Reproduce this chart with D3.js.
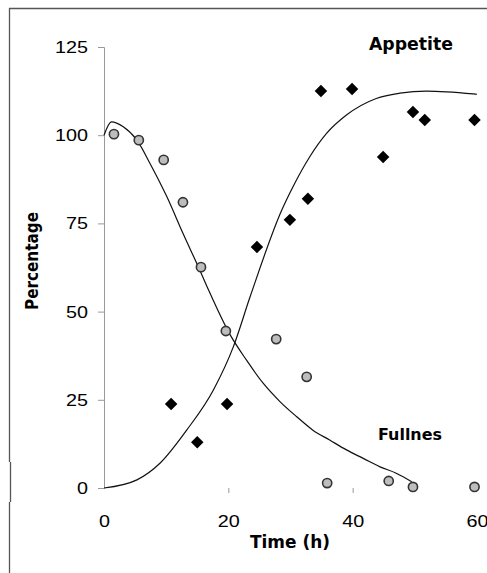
<!DOCTYPE html>
<html>
<head>
<meta charset="utf-8">
<script src="https://cdn.jsdelivr.net/npm/d3@7"></script>
<style>
  html, body { margin: 0; padding: 0; background: #fff; }
  svg { display: block; }
</style>
</head>
<body>
<div id="chart"></div>
<script>
// ---- Data ----
const xTicks = [0, 20, 40, 60];
const yTicks = [0, 25, 50, 75, 100, 125];

// Fullness observations (time h, percentage)
const fullTime  = [1.6, 5.6, 9.6, 12.7, 15.6, 19.6, 27.7, 32.6, 35.9, 45.8, 49.7, 59.6];
const fullValue = [100.3, 98.6, 93, 81, 62.6, 44.5, 42.2, 31.5, 1.4, 2, 0.3, 0.3];

// Appetite observations (time h, percentage)
const appTime  = [10.8, 15, 19.8, 24.6, 29.9, 32.8, 34.9, 39.9, 44.9, 49.7, 51.6, 59.6];
const appValue = [23.8, 13, 23.8, 68.3, 76, 82, 112.5, 113.1, 93.8, 106.6, 104.3, 104.3];

// Fitted curves
const fullCurveT = [0, 1.2, 3.1, 5.3, 7.4, 10.1, 12.7, 15.4, 16.6, 20.3, 22.9, 25.6, 28.3, 31, 33.6, 36.3, 39, 41.7, 44.4, 47, 49.5];
const fullCurveV = [100, 103.8, 102.4, 98.6, 92, 82.6, 72.2, 61.8, 57, 43.4, 36.3, 29.7, 24.5, 20.2, 16.4, 13.6, 10.8, 8.4, 6, 4.2, 1.8];
const appCurveT  = [0, 5.3, 9, 13.3, 17.6, 20.8, 23.5, 28.6, 30.4, 33.1, 35.8, 39, 43.8, 47.6, 51.9, 59.4, 60];
const appCurveV  = [0, 2.3, 7, 16.4, 27.8, 40, 54.2, 78.8, 85.4, 93.9, 100.5, 105.7, 110.4, 111.9, 112.5, 111.7, 111.6];

// ---- Layout ----
const W = 487, H = 573;
const svg = d3.select("#chart").append("svg").attr("width", W).attr("height", H);

const x = d3.scaleLinear().domain([0, 60]).range([104, 477]);
const y = d3.scaleLinear().domain([0, 125]).range([488, 47]);

const handFont = "'Comic Sans MS', 'DejaVu Sans', sans-serif";
const tickFont = "'Liberation Sans', Arial, sans-serif";

// frame
const frame = [[9, 8.5, W, 8.5], [9.5, 8, 9.5, 462], [10.5, 462, 10.5, 502], [9.5, 502, 9.5, H]];
svg.append("g").selectAll("line").data(frame).join("line")
  .attr("x1", d => d[0]).attr("y1", d => d[1]).attr("x2", d => d[2]).attr("y2", d => d[3])
  .attr("stroke", "#555").attr("stroke-width", 1.3);

// Y axis
const yAxis = d3.axisLeft(y).tickValues(yTicks).tickSize(6).tickPadding(10);
const gy = svg.append("g").attr("transform", `translate(${x(0)},0)`).call(yAxis);
gy.select(".domain").attr("stroke", "#999");
gy.selectAll(".tick line").attr("stroke", "#999");
gy.selectAll(".tick text").attr("font-family", tickFont)
  .attr("font-size", 17).attr("fill", "#000")
  .attr("textLength", d => String(d).length * 11).attr("lengthAdjust", "spacingAndGlyphs");

// X axis (ticks only, no baseline)
const xAxis = d3.axisBottom(x).tickValues(xTicks).tickSize(5).tickPadding(22);
const gx = svg.append("g").attr("transform", `translate(0,${y(0)})`).call(xAxis);
gx.select(".domain").remove();
gx.selectAll(".tick line").attr("stroke", "#999")
  .attr("display", d => (d === 20 || d === 40) ? null : "none");
gx.selectAll(".tick text").attr("font-family", tickFont)
  .attr("font-size", 17).attr("fill", "#000")
  .attr("textLength", d => String(d).length * 11).attr("lengthAdjust", "spacingAndGlyphs");

// curves
const line = d3.line().x(d => x(d[0])).y(d => y(d[1])).curve(d3.curveMonotoneX);
svg.append("path").datum(d3.zip(fullCurveT, fullCurveV)).attr("d", line)
  .attr("fill", "none").attr("stroke", "#111").attr("stroke-width", 1.2);
svg.append("path").datum(d3.zip(appCurveT, appCurveV)).attr("d", line)
  .attr("fill", "none").attr("stroke", "#111").attr("stroke-width", 1.2);

// Fullness circles
svg.append("g").selectAll("circle").data(d3.zip(fullTime, fullValue)).join("circle")
  .attr("cx", d => x(d[0])).attr("cy", d => y(d[1])).attr("r", 4.6)
  .attr("fill", "#bdbdbd").attr("stroke", "#333").attr("stroke-width", 1.6);

// Appetite diamonds
svg.append("g").selectAll("path").data(d3.zip(appTime, appValue)).join("path")
  .attr("transform", d => `translate(${x(d[0])},${y(d[1])}) rotate(45)`)
  .attr("d", d3.symbol().type(d3.symbolSquare).size(78))
  .attr("fill", "#000");

// labels
svg.append("text").attr("x", 369).attr("y", 50).text("Appetite")
  .attr("font-family", handFont).attr("font-weight", "bold").attr("font-size", 17)
  .attr("textLength", 84).attr("lengthAdjust", "spacingAndGlyphs");
svg.append("text").attr("x", 378).attr("y", 440).text("Fullnes")
  .attr("font-family", handFont).attr("font-weight", "bold").attr("font-size", 16)
  .attr("textLength", 64).attr("lengthAdjust", "spacingAndGlyphs");
svg.append("text").attr("x", 250).attr("y", 548).text("Time (h)")
  .attr("font-family", handFont).attr("font-weight", "bold").attr("font-size", 17)
  .attr("textLength", 80).attr("lengthAdjust", "spacingAndGlyphs");
svg.append("text").attr("transform", "translate(38,261) rotate(-90)")
  .attr("text-anchor", "middle").text("Percentage")
  .attr("font-family", handFont).attr("font-weight", "bold").attr("font-size", 17)
  .attr("textLength", 98).attr("lengthAdjust", "spacingAndGlyphs");
</script>
</body>
</html>
